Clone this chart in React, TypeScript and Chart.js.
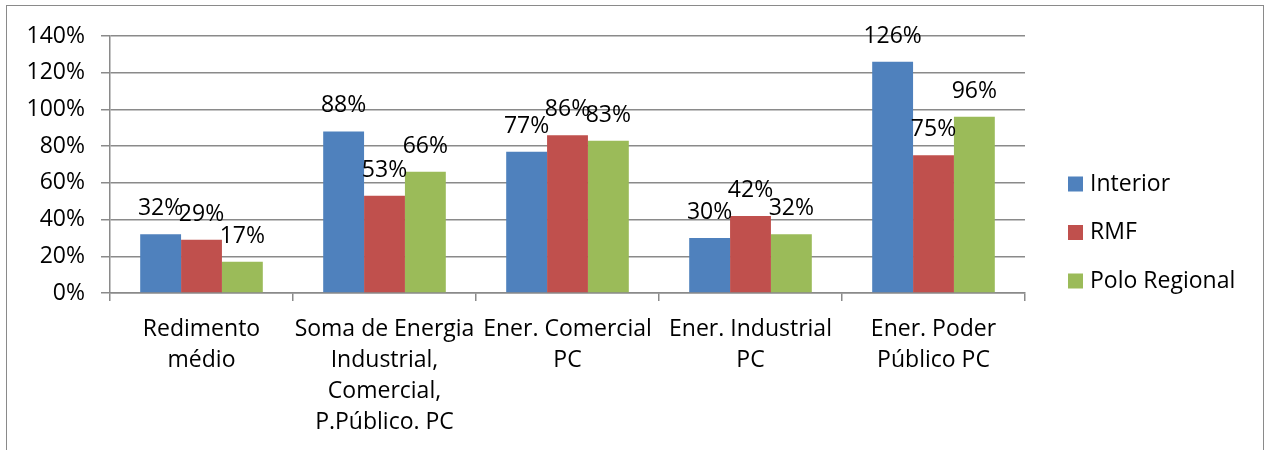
import React, { useEffect, useRef } from "react";
import { Chart, registerables } from "chart.js";

Chart.register(...registerables);

// Category labels (multi-line) along the x axis
const categories: string[][] = [
  ["Redimento", "médio"],
  ["Soma de Energia", "Industrial,", "Comercial,", "P.Público. PC"],
  ["Ener. Comercial", "PC"],
  ["Ener. Industrial", "PC"],
  ["Ener. Poder", "Público PC"],
];

// Series values, in percent
const seriesNames = ["Interior", "RMF", "Polo Regional"];
const interior = [32, 88, 77, 30, 126];
const rmf = [29, 53, 86, 42, 75];
const poloRegional = [17, 66, 83, 32, 96];

// Value axis
const yMin = 0;
const yMax = 140;
const yStep = 20;

const seriesColors = ["#4F81BD", "#C0504D", "#9BBB59"];
const FONT = '"Open Sans", sans-serif';
const FONT_SIZE = 23;
const LINE_COLOR = "#8a8a8a";

// Percentage labels drawn above every bar
const valueLabels = {
  id: "valueLabels",
  afterDatasetsDraw(chart: any) {
    const ctx = chart.ctx;
    ctx.save();
    ctx.font = `${FONT_SIZE}px ${FONT}`;
    ctx.fillStyle = "#000";
    ctx.textAlign = "center";
    ctx.textBaseline = "alphabetic";
    chart.data.datasets.forEach((ds: any, i: number) => {
      chart.getDatasetMeta(i).data.forEach((bar: any, j: number) => {
        ctx.fillText(`${ds.data[j]}%`, bar.x, bar.y - 19);
      });
    });
    ctx.restore();
  },
};

// Legend to the right of the plot: coloured squares with series names
const sideLegend = {
  id: "sideLegend",
  afterDraw(chart: any) {
    const ctx = chart.ctx;
    const area = chart.chartArea;
    const boxX = area.right + 43;
    const textX = boxX + 22;
    const firstY = area.top + 148;
    const rowGap = 48.5;
    const box = 15;
    ctx.save();
    ctx.font = `${FONT_SIZE}px ${FONT}`;
    ctx.textAlign = "left";
    ctx.textBaseline = "middle";
    chart.data.datasets.forEach((ds: any, i: number) => {
      const y = firstY + i * rowGap;
      ctx.fillStyle = ds.backgroundColor;
      ctx.fillRect(boxX, y - box / 2, box, box);
      ctx.fillStyle = "#000";
      ctx.fillText(ds.label, textX, y);
    });
    ctx.restore();
  },
};

export default function App() {
  const canvasRef = useRef<HTMLCanvasElement | null>(null);

  useEffect(() => {
    const canvas = canvasRef.current;
    if (!canvas) return;
    const values = [interior, rmf, poloRegional];
    const chart = new Chart(canvas, {
      type: "bar",
      data: {
        labels: categories,
        datasets: seriesNames.map((name, i) => ({
          label: name,
          data: values[i],
          backgroundColor: seriesColors[i],
          borderWidth: 0,
          categoryPercentage: 0.67,
          barPercentage: 1,
        })),
      },
      options: {
        responsive: false,
        animation: false,
        devicePixelRatio: 1,
        layout: { padding: { top: 36, right: 244, left: 0, bottom: 0 } },
        plugins: {
          legend: { display: false },
          tooltip: { enabled: false },
          title: { display: false },
        },
        scales: {
          x: {
            grid: {
              display: true,
              drawOnChartArea: false,
              drawTicks: true,
              tickLength: 8,
              color: LINE_COLOR,
              lineWidth: 1.5,
              offset: true,
            },
            border: { display: true, color: LINE_COLOR, width: 1.5 },
            ticks: {
              color: "#000",
              font: { family: FONT, size: FONT_SIZE, lineHeight: 1.35 },
              padding: 13,
              maxRotation: 0,
              autoSkip: false,
            },
            afterFit(scale: any) {
              scale.height = 157;
            },
          },
          y: {
            min: yMin,
            max: yMax,
            grid: {
              color: LINE_COLOR,
              lineWidth: 1.5,
              tickLength: 9,
            },
            border: { display: true, color: LINE_COLOR, width: 1.5 },
            ticks: {
              stepSize: yStep,
              color: "#000",
              font: { family: FONT, size: FONT_SIZE },
              padding: 16,
              callback: (v: any) => `${v}%`,
            },
            afterFit(scale: any) {
              scale.width = 110;
            },
          },
        },
      },
      plugins: [valueLabels, sideLegend],
    });
    return () => chart.destroy();
  }, []);

  return (
    <div
      style={{
        position: "absolute",
        left: 0,
        top: 0,
        width: 1269,
        height: 450,
        overflow: "hidden",
        background: "#fff",
      }}
    >
      <div
        style={{
          position: "absolute",
          left: 6,
          top: 5,
          width: 1256,
          height: 500,
          border: "1.5px solid #8a8a8a",
        }}
      />
      <canvas
        ref={canvasRef}
        width={1269}
        height={450}
        style={{ position: "absolute", left: 0, top: 0 }}
      />
    </div>
  );
}
